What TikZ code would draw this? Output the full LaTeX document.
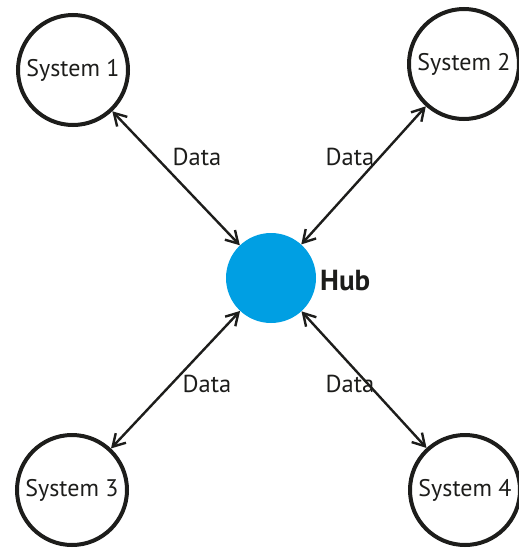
\documentclass[tikz,border=0pt]{standalone}
\usepackage{fontspec}
\setmainfont{PT Sans}
\usetikzlibrary{arrows.meta}
\definecolor{ink}{HTML}{1D1D1B}
\definecolor{hubblue}{HTML}{009FE3}
\begin{document}
\begin{tikzpicture}[x=1pt,y=-1pt,
  sysnode/.style={circle,draw=ink,line width=4pt,minimum size=110pt,inner sep=0pt,
    font=\fontsize{24}{28}\selectfont,text=ink},
  hubnode/.style={circle,fill=hubblue,minimum size=90pt,inner sep=0pt},
  link/.style={ink,line width=2.4pt,{Straight Barb[length=12pt,width=14pt,line width=2.4pt]}-{Straight Barb[length=12pt,width=14pt,line width=2.4pt]}},
  lbl/.style={font=\fontsize{24.5}{28}\selectfont,text=ink,inner sep=0pt}]
\useasboundingbox (0,0) rectangle (519,549);
\node[sysnode] (s1) at (73,70) {System 1};
\node[sysnode] (s2) at (464,64) {System 2};
\node[sysnode] (s3) at (72,490) {System 3};
\node[sysnode] (s4) at (465,490) {System 4};
\node[hubnode] (hub) at (271,278) {};
\node[lbl,font=\bfseries\fontsize{29}{32}\selectfont,anchor=west] (hublbl) at (320,281) {Hub};
\draw[link] (s1) -- (hub);
\draw[link] (s2) -- (hub);
\draw[link] (s3) -- (hub);
\draw[link] (s4) -- (hub);
\node[lbl] (d1) at (197,157) {Data};
\node[lbl] (d2) at (350,157) {Data};
\node[lbl] (d3) at (207,384) {Data};
\node[lbl] (d4) at (350,384) {Data};
\end{tikzpicture}
\end{document}
